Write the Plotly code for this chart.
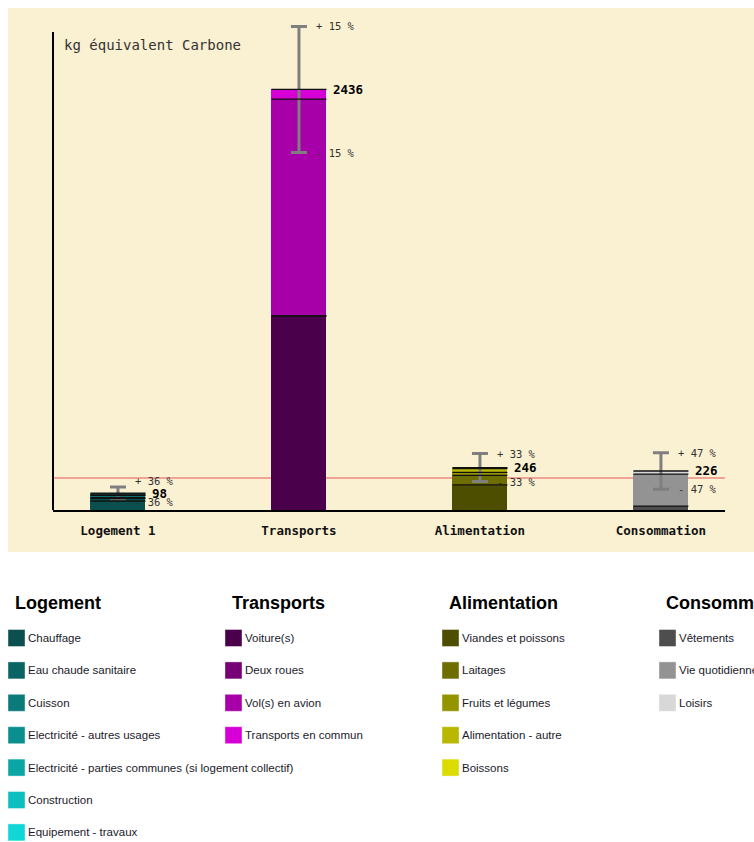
import plotly.graph_objects as go

# ---------------- data ----------------
categories = ["Logement", "Transports", "Alimentation", "Consommation"]
tick_labels = ["Logement 1", "Transports", "Alimentation", "Consommation"]

sub_names = {
    "Logement": ["Chauffage", "Eau chaude sanitaire", "Cuisson", "Electricité - autres usages",
                 "Electricité - parties communes (si logement collectif)", "Construction",
                 "Equipement - travaux"],
    "Transports": ["Voiture(s)", "Deux roues", "Vol(s) en avion", "Transports en commun"],
    "Alimentation": ["Viandes et poissons", "Laitages", "Fruits et légumes",
                     "Alimentation - autre", "Boissons"],
    "Consommation": ["Vêtements", "Vie quotidienne", "Loisirs"],
}
sub_values = {
    "Logement": [52, 14, 5, 12, 4, 6, 5],
    "Transports": [1125, 0, 1255, 56],
    "Alimentation": [145, 55, 18, 22, 6],
    "Consommation": [22, 186, 18],
}
sub_colors = {
    "Logement": ["#0B4F4F", "#0A6464", "#0A7A7A", "#0A8E8E", "#0AA6A6", "#0CBFBF", "#10D6D6"],
    "Transports": ["#4A004A", "#770077", "#A800A8", "#D600D6"],
    "Alimentation": ["#4E4E00", "#6E6E00", "#949400", "#B8B800", "#DCDC00"],
    "Consommation": ["#4E4E4E", "#939393", "#D8D8D8"],
}
totals = [98, 2436, 246, 226]
uncert_pct = [36, 15, 33, 47]
reference_value = 185

# ---------------- geometry ----------------
W, H = 754, 842
L, R, T, B = 53, 29, 18, 332
PW, PH = W - L - R, H - T - B
AXIS_TOP = 2769              # value where the drawn y axis line stops
YMAX = 2850                  # extra headroom so the top whisker is not clipped
BEIGE = "#FAF0D2"
MONO = "DejaVu Sans Mono"
SANS = "Liberation Sans"
BAR_W = 0.304


def px(x):
    """pixel x -> paper coordinate"""
    return (x - L) / PW


def py(y):
    """pixel y -> paper coordinate"""
    return (H - B - y) / PH


fig = go.Figure()

# stacked bars
for cat in categories:
    for name, val, col in zip(sub_names[cat], sub_values[cat], sub_colors[cat]):
        fig.add_trace(go.Bar(x=[cat], y=[val], name=name, marker=dict(color=col, line=dict(width=0)),
                             width=BAR_W, showlegend=False, hoverinfo="name+y"))

# error bars on totals
fig.add_trace(go.Scatter(
    x=categories, y=totals, mode="markers", cliponaxis=False,
    marker=dict(color="rgba(0,0,0,0)", size=2),
    error_y=dict(type="data", array=[t * p / 100 for t, p in zip(totals, uncert_pct)],
                 color="#7F7F7F", thickness=3, width=8),
    showlegend=False, hoverinfo="skip"))

shapes = []
# beige panel
shapes.append(dict(type="rect", xref="paper", yref="paper", x0=px(8), x1=px(800),
                   y0=py(552), y1=py(8), fillcolor=BEIGE, line=dict(width=0), layer="below"))
# white page margin above the panel (covers plot bg there)
shapes.append(dict(type="rect", xref="paper", yref="paper", x0=px(0), x1=px(800),
                   y0=py(8), y1=py(0), fillcolor="#FFFFFF", line=dict(width=0), layer="below"))
# y axis line
shapes.append(dict(type="line", xref="paper", yref="y", x0=0, x1=0, y0=0, y1=AXIS_TOP,
                   line=dict(color="#000000", width=2)))
# reference line
shapes.append(dict(type="line", xref="paper", yref="y", x0=0, x1=1, y0=reference_value,
                   y1=reference_value, line=dict(color="#EE8A80", width=1.5), layer="below"))
# segment separators
for i, cat in enumerate(categories):
    cum = 0
    for v in sub_values[cat]:
        cum += v
        shapes.append(dict(type="line", xref="x", yref="y", x0=i - BAR_W / 2, x1=i + BAR_W / 2,
                           y0=cum, y1=cum, line=dict(color="#111111", width=1.3)))

annotations = []
annotations.append(dict(xref="paper", yref="paper", x=px(62), y=py(45), xanchor="left",
                        yanchor="middle", text="kg équivalent Carbone", showarrow=False,
                        font=dict(family=MONO, size=14, color="#333333")))

lab_shift_top = [-6, 0, 0, 0]
lab_shift_bot = [3, 0, 0, 0]
for i, cat in enumerate(categories):
    t = totals[i]
    p = uncert_pct[i]
    annotations.append(dict(xref="x", yref="y", x=cat, y=t, xanchor="left",
                            yanchor="middle", xshift=32, text=f"<b>{t}</b>", showarrow=False,
                            font=dict(family=MONO, size=12.5, color="#000000")))
    annotations.append(dict(xref="x", yref="y", x=cat, y=t * (1 + p / 100),
                            xanchor="left", yanchor="middle", xshift=15,
                            yshift=-lab_shift_top[i], text=f"+ {p} %", showarrow=False,
                            font=dict(family=MONO, size=10.5, color="#333333")))
    annotations.append(dict(xref="x", yref="y", x=cat, y=t * (1 - p / 100),
                            xanchor="left", yanchor="middle", xshift=15,
                            yshift=-lab_shift_bot[i], text=f"- {p} %", showarrow=False,
                            font=dict(family=MONO, size=10.5, color="#333333")))

# custom legend
col_x = [8, 225, 442, 659]
row0, row_step = 638, 32.4
for c, cat in enumerate(categories):
    annotations.append(dict(xref="paper", yref="paper", x=px(col_x[c] + 5), y=py(603),
                            xanchor="left", yanchor="middle", text=f"<b>{cat}</b>", showarrow=False,
                            font=dict(family=SANS, size=18, color="#000000")))
    for k, (name, col) in enumerate(zip(sub_names[cat], sub_colors[cat])):
        yc = row0 + k * row_step
        shapes.append(dict(type="rect", xref="paper", yref="paper", x0=px(col_x[c]),
                           x1=px(col_x[c] + 17), y0=py(yc + 8.5), y1=py(yc - 8.5),
                           fillcolor=col, line=dict(color="rgba(255,255,255,0.4)", width=1)))
        annotations.append(dict(xref="paper", yref="paper", x=px(col_x[c] + 18), y=py(yc),
                                xanchor="left", yanchor="middle", text=name, showarrow=False,
                                font=dict(family=SANS, size=11.5, color="#1a1a2a")))

fig.update_layout(
    width=W, height=H, margin=dict(l=L, r=R, t=T, b=B, autoexpand=False),
    paper_bgcolor="#FFFFFF", plot_bgcolor=BEIGE, barmode="stack", bargap=0,
    shapes=shapes, annotations=annotations, showlegend=False,
    xaxis=dict(range=[-0.359, 3.354], tickmode="array", tickvals=categories, ticktext=tick_labels,
               showline=True, linecolor="#000000", linewidth=2, showgrid=False, zeroline=False,
               ticks="outside", ticklen=8, tickcolor="rgba(0,0,0,0)",
               tickfont=dict(family=MONO, size=12.5, color="#111111", weight="bold")),
    yaxis=dict(range=[0, YMAX], showline=False,
               showgrid=False, zeroline=False, showticklabels=False, ticks=""),
)

fig.write_html("out.html", config={"displayModeBar": False},
               post_script="document.body.style.margin='0';"
                           "document.documentElement.style.overflow='hidden';"
                           "document.body.style.overflow='hidden';")
